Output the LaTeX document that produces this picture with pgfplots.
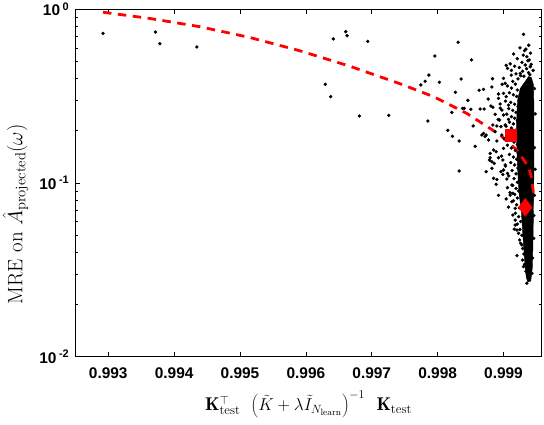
\documentclass[border=0pt]{standalone}
\usepackage{fontspec}
\usepackage{pgfplots}
\pgfplotsset{compat=1.18}
\newfontfamily\tickfont{Liberation Sans}
\newcommand{\tl}{\fontsize{15.5}{15.5}\selectfont\tickfont\bfseries}
\newcommand{\dec}[1]{10\,\raisebox{5.5bp}{\fontsize{11}{11}\selectfont #1}}
\begin{document}
\begin{tikzpicture}
\begin{axis}[
  scale only axis, width=466.4bp, height=347.4bp,
  xmin=0.9925, xmax=0.99958,
  ymode=log, ymin=0.01, ymax=1,
  xtick={0.993,0.994,0.995,0.996,0.997,0.998,0.999},
  xticklabels={0.993,0.994,0.995,0.996,0.997,0.998,0.999},
  ytick={0.01,0.1,1},
  yticklabels={\dec{-2},\dec{-1},\dec{0}},
  minor ytick={0.02,0.03,0.04,0.05,0.06,0.07,0.08,0.09,0.2,0.3,0.4,0.5,0.6,0.7,0.8,0.9},
  tick align=inside,
  major tick length=5bp, minor tick length=3bp,
  every tick/.style={black, line width=0.6bp},
  axis line style={line width=0.6bp},
  xticklabel style={font=\tl, yshift=-7bp},
  yticklabel style={font=\tl, xshift=-3bp},
  xlabel={$\mathbf{K}_{\mathrm{test}}^{\top}\mkern8mu\left(\tilde{K}+\lambda\tilde{I}_{N_{\mathrm{learn}}}\right)^{-1}\mkern9mu\mathbf{K}_{\mathrm{test}}$},
  xlabel style={font=\fontsize{18.5}{20}\selectfont, at={(axis description cs:0.5,0)}, anchor=center, yshift=-48bp},
  ylabel={MRE on $\hat{A}_{\mathrm{projected}}(\omega)$},
  ylabel style={font=\fontsize{21}{23}\selectfont, at={(axis description cs:-0.128,0.41)}, anchor=center},
  clip=true,
]
% dense core of overlapping points
\addplot[fill=black, draw=black, line width=0.4bp] coordinates {
(0.999345,0.3917) (0.999254,0.3500) (0.999215,0.3004) (0.999200,0.2305)
(0.999200,0.1769) (0.999208,0.1356) (0.999223,0.1041) (0.999239,0.0853)
(0.999269,0.0699) (0.999284,0.0573) (0.999299,0.0470) (0.999315,0.0385)
(0.999330,0.0324) (0.999345,0.0288) (0.999368,0.0269) (0.999414,0.0273)
(0.999437,0.0324) (0.999445,0.0411) (0.999453,0.0612) (0.999460,0.1041)
(0.999460,0.1769) (0.999460,0.3004) (0.999453,0.3700) (0.999422,0.4050)
(0.999380,0.4100) (0.999345,0.3917)
};
\addplot[only marks, mark=*, mark size=1.5bp, black] table {
x y
0.992921 0.727
0.993717 0.740
0.993783 0.634
0.994345 0.607
0.996605 0.743
0.996625 0.705
0.996416 0.675
0.996939 0.654
0.996295 0.370
0.996377 0.314
0.996812 0.243
0.997258 0.245
0.997958 0.538
0.997867 0.418
0.997810 0.385
0.997745 0.367
0.998027 0.380
0.997852 0.2275
0.998312 0.646
0.998514 0.511
0.998357 0.397
0.998271 0.333
0.998459 0.299
0.998216 0.255
0.998377 0.269
0.998403 0.269
0.998505 0.2656
0.998155 0.201
0.998225 0.1857
0.998327 0.1745
0.998570 0.1627
0.998540 0.213
0.998327 0.1173
0.998631 0.342
0.998696 0.346
0.998833 0.3985
0.999000 0.4005
0.999041 0.476
0.999102 0.4856
0.999061 0.457
0.999155 0.553
0.999304 0.718
0.999383 0.621
0.999318 0.578
0.999355 0.5335
0.999390 0.511
0.999406 0.467
0.999117 0.418
0.999254 0.428
0.998824 0.357
0.999026 0.375
0.998924 0.3254
0.999000 0.3284
0.998768 0.3045
0.998924 0.3074
0.999041 0.314
0.998950 0.285
0.998809 0.2775
0.998646 0.2667
0.998707 0.2667
0.998976 0.263
0.999076 0.281
0.998874 0.2486
0.999000 0.2463
0.998939 0.2305
0.999076 0.2327
0.998839 0.2158
0.998900 0.213
0.998961 0.211
0.999026 0.2158
0.998696 0.1932
0.998737 0.189
0.998874 0.1973
0.998773 0.1769
0.998900 0.1745
0.998976 0.189
0.998849 0.1549
0.998889 0.1514
0.999000 0.1584
0.998798 0.1398
0.998924 0.1398
0.998991 0.1356
0.998859 0.1298
0.999026 0.127
0.998737 0.1162
0.998961 0.1162
0.999000 0.1188
0.998824 0.1215
0.999061 0.1137
0.998849 0.1064
0.998900 0.1047
0.999051 0.1054
0.998889 0.0983
0.999128 0.0974
0.998924 0.0848
0.999102 0.0853
0.999143 0.0873
0.999076 0.0727
0.999128 0.078
0.999178 0.0715
0.999143 0.0654
0.999178 0.0573
0.999163 0.0543
0.999204 0.0536
0.999244 0.047
0.999204 0.0382
0.999280 0.044
0.999304 0.033
0.999432 0.0302
0.999365 0.0295
0.999355 0.0265
0.999395 0.0283
0.998839 0.273
0.998722 0.1854
0.998672 0.189
0.998798 0.148
0.998787 0.1356
0.998824 0.1326
0.999178 0.0612
0.999229 0.0513
0.99906 0.362
0.99912 0.352
0.99918 0.371
0.99921 0.343
0.99909 0.331
0.99915 0.322
0.99920 0.315
0.99903 0.296
0.99911 0.291
0.99917 0.284
0.99922 0.276
0.99908 0.268
0.99914 0.262
0.99919 0.255
0.99905 0.249
0.99912 0.241
0.99917 0.236
0.99921 0.229
0.99909 0.224
0.99915 0.219
0.99904 0.212
0.99912 0.207
0.99918 0.201
0.99921 0.196
0.99907 0.192
0.99914 0.186
0.99919 0.181
0.99910 0.177
0.99916 0.172
0.99921 0.167
0.99906 0.165
0.99912 0.159
0.99918 0.154
0.99922 0.149
0.99909 0.146
0.99915 0.141
0.99920 0.137
0.99911 0.131
0.99917 0.127
0.99922 0.122
0.99913 0.118
0.99919 0.113
0.99908 0.110
0.99916 0.106
0.99921 0.101
0.99914 0.097
0.99919 0.093
0.99923 0.090
0.99917 0.086
0.99921 0.082
0.99915 0.079
0.99920 0.075
0.99924 0.072
0.99918 0.067
0.99923 0.064
0.99926 0.060
0.99921 0.058
0.99925 0.054
0.99928 0.050
0.99926 0.045
0.99929 0.042
0.99931 0.039
0.99929 0.036
0.99932 0.034
0.99934 0.031
0.99925 0.600
0.99934 0.590
0.99941 0.560
0.99930 0.545
0.99921 0.520
0.99937 0.505
0.99928 0.495
0.99917 0.470
0.99933 0.478
0.99942 0.482
0.99924 0.462
0.99912 0.445
0.99929 0.440
0.99938 0.432
0.99919 0.425
0.99945 0.445
0.99931 0.412
0.99922 0.398
0.99914 0.385
0.99926 0.415
0.99935 0.455
0.99940 0.420
0.99947 0.350
0.99948 0.250
0.99947 0.160
0.99948 0.120
0.99947 0.085
0.99946 0.065
0.99946 0.048
0.99944 0.037
0.99898 0.370
0.99895 0.270
0.99892 0.232
0.99901 0.180
0.99897 0.143
0.99903 0.125
0.99899 0.112
0.99906 0.094
0.99910 0.088
0.99904 0.081
};
% fitted curve
\addplot[red, line width=2.8bp, dash pattern=on 8.5bp off 6.5bp] coordinates {
(0.99292,0.962) (0.993631,0.886) (0.994391,0.794) (0.995151,0.688)
(0.995910,0.577) (0.996670,0.470) (0.997430,0.3727) (0.99794,0.314)
(0.99844,0.252) (0.99895,0.189) (0.99920,0.155)
(0.99938,0.124) (0.99943,0.106) (0.99946,0.0834)
};
\addplot[only marks, mark=square*, mark size=5.8bp, red] coordinates {(0.999112,0.189)};
\addplot[only marks, mark=diamond*, mark size=9bp, red] coordinates {(0.99933,0.0724)};
\coordinate (bl) at (rel axis cs:0,0);
\coordinate (tr) at (rel axis cs:1,1);
\end{axis}
\pgfresetboundingbox
\path[use as bounding box] ([xshift=-75.3bp,yshift=-67.3bp]bl) rectangle ([xshift=2.3bp,yshift=9.3bp]tr);
\end{tikzpicture}
\end{document}
